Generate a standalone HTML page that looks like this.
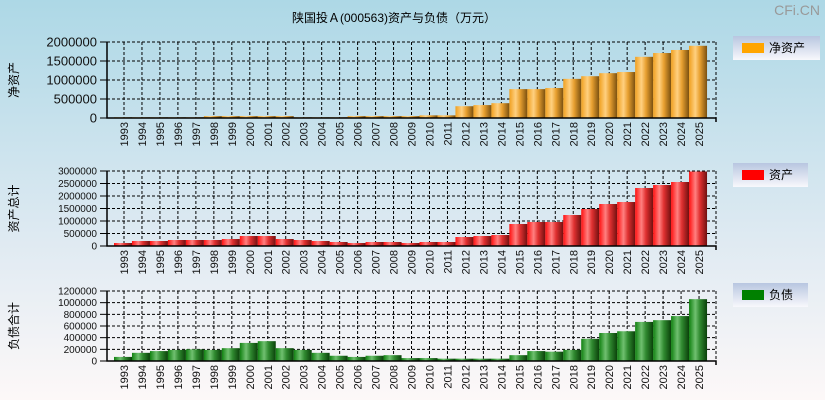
<!DOCTYPE html>
<html><head><meta charset="utf-8"><style>
body{margin:0;width:825px;height:400px;overflow:hidden;font-family:"Liberation Sans","Noto Sans CJK SC",sans-serif;}
svg{display:block}
</style></head><body>
<svg id="chart" width="825" height="400" xmlns="http://www.w3.org/2000/svg">
<defs>
<linearGradient id="bg" x1="0" y1="0" x2="0" y2="1"><stop offset="0" stop-color="#add8e6"/><stop offset="0.6" stop-color="#dfeaf2"/><stop offset="1" stop-color="#fdf8f8"/></linearGradient>
<linearGradient id="lg" x1="0" y1="0" x2="0" y2="1"><stop offset="0" stop-color="#b8c6e0"/><stop offset="1" stop-color="#f8f8fc"/></linearGradient>
<linearGradient id="gO" x1="0" y1="0" x2="1" y2="0"><stop offset="0" stop-color="#f0a020"/><stop offset="0.35" stop-color="#ffd080"/><stop offset="0.6" stop-color="#e8a030"/><stop offset="1" stop-color="#7a5010"/></linearGradient>
<linearGradient id="gR" x1="0" y1="0" x2="1" y2="0"><stop offset="0" stop-color="#ff1010"/><stop offset="0.35" stop-color="#ff8080"/><stop offset="0.6" stop-color="#e03030"/><stop offset="1" stop-color="#701010"/></linearGradient>
<linearGradient id="gG" x1="0" y1="0" x2="1" y2="0"><stop offset="0" stop-color="#108010"/><stop offset="0.35" stop-color="#70c070"/><stop offset="0.6" stop-color="#308a30"/><stop offset="1" stop-color="#0a400a"/></linearGradient>
</defs>
<rect width="825" height="400" fill="url(#bg)"/>
<text x="394" y="22" font-size="12" text-anchor="middle">陕国投Ａ(000563)资产与负债（万元）</text>
<text x="820" y="15" font-size="14" fill="#999" text-anchor="end">CFi.CN</text>
</svg>
<script>
const years=['1993','1994','1995','1996','1997','1998','1999','2000','2001','2002','2003','2004','2005','2006','2007','2008','2009','2010','2011','2012','2013','2014','2015','2016','2017','2018','2019','2020','2021','2022','2023','2024','2025'];
const netAssets=[20000,20000,20000,20000,20000,50000,50000,50000,50000,50000,20000,20000,20000,50000,50000,50000,50000,70000,70000,310000,340000,390000,760000,760000,790000,1030000,1100000,1180000,1210000,1610000,1710000,1790000,1900000];
const totalAssets=[120000,200000,200000,240000,240000,240000,280000,400000,400000,280000,240000,200000,160000,120000,160000,160000,120000,160000,160000,360000,400000,440000,880000,960000,960000,1240000,1480000,1680000,1760000,2320000,2440000,2560000,2980000];
const liabilities=[70000,140000,170000,190000,200000,190000,220000,310000,340000,220000,190000,140000,90000,70000,90000,100000,50000,50000,40000,40000,40000,40000,100000,170000,160000,190000,380000,480000,510000,670000,700000,770000,1060000];
const ticks1=['0','500000','1000000','1500000','2000000'];
const ticks2=['0','500000','1000000','1500000','2000000','2500000','3000000'];
const ticks3=['0','200000','400000','600000','800000','1000000','1200000'];
const NS='http://www.w3.org/2000/svg';
const svg=document.getElementById('chart');
function mk(t,a,p){const e=document.createElementNS(NS,t);for(const k in a)e.setAttribute(k,a[k]);(p||svg).appendChild(e);return e;}
const L=107,R=716;
function xc(i){return 124+i*17.97;}
function panel(key,top,bot,ticks,vals,grad,fs,ytitle,legText,legColor,legY,legW){
  const max=+ticks[ticks.length-1];
  const y=v=>bot-(v/max)*(bot-top);
  const g=mk('g',{});
  
  
  ticks.forEach((t,i)=>{
    const yy=y(+t);
    if(i>0){const gl=mk('line',{x1:L,x2:R,y1:yy,y2:yy,stroke:'#000','stroke-dasharray':'3,2','stroke-width':1},g);
    
    }
    const tk=mk('line',{x1:L-7,x2:L,y1:yy,y2:yy,stroke:'#000'},g);
    
    
    const tx=mk('text',{x:L-10,y:yy+fs*0.35,'font-size':fs,'text-anchor':'end',fill:'#111'},g);
    tx.textContent=t;
    
    
  });
  years.forEach((yr,i)=>{
    const gl=mk('line',{x1:xc(i),x2:xc(i),y1:top,y2:bot,stroke:'#000','stroke-dasharray':'3,2'},g);
    
    
    const tx=mk('text',{x:0,y:0,'font-size':11,'text-anchor':'end',fill:'#111',transform:'translate('+(xc(i)+4)+','+(bot+4)+') rotate(-90)'},g);
    tx.textContent=yr;
    
    
  });
  const rb=mk('line',{x1:R,x2:R,y1:top,y2:bot,stroke:'#000','stroke-dasharray':'3,2'},g);
  
  
  const tb=mk('line',{x1:L,x2:R,y1:top,y2:top,stroke:'#000','stroke-dasharray':'3,2'},g);
  
  
  vals.forEach((v,i)=>{
    const r=mk('rect',{x:xc(i)-10,y:y(v),width:18,height:bot-y(v),fill:'url(#'+grad+')'},g);
    
    
  });
  const ax=mk('path',{d:'M'+L+' '+top+' V'+bot+' H'+R+' v4',stroke:'#000','stroke-width':1.5,fill:'none'},g);
  
  
  const yt=mk('text',{x:0,y:0,'font-size':12,'text-anchor':'middle',transform:'translate(18,'+((top+bot)/2)+') rotate(-90)'},g);
  yt.textContent=ytitle;
  
  
  const lg=mk('g',{},g);
  
  
  mk('rect',{x:733,y:legY,width:legW,height:24,fill:'url(#lg)'},lg);
  mk('rect',{x:742,y:legY+7,width:22,height:10,fill:legColor},lg);
  const lt=mk('text',{x:769,y:legY+16,'font-size':12},lg);
  lt.textContent=legText;
}
panel('net-assets',42,118,ticks1,netAssets,'gO',13,'净资产','净资产','#ffa500',36,87);
panel('total-assets',171,246,ticks2,totalAssets,'gR',10,'资产总计','资产','#ff0000',163,75);
panel('liabilities',291,361,ticks3,liabilities,'gG',10,'负债合计','负债','#008000',283,75);
</script>
</body></html>
